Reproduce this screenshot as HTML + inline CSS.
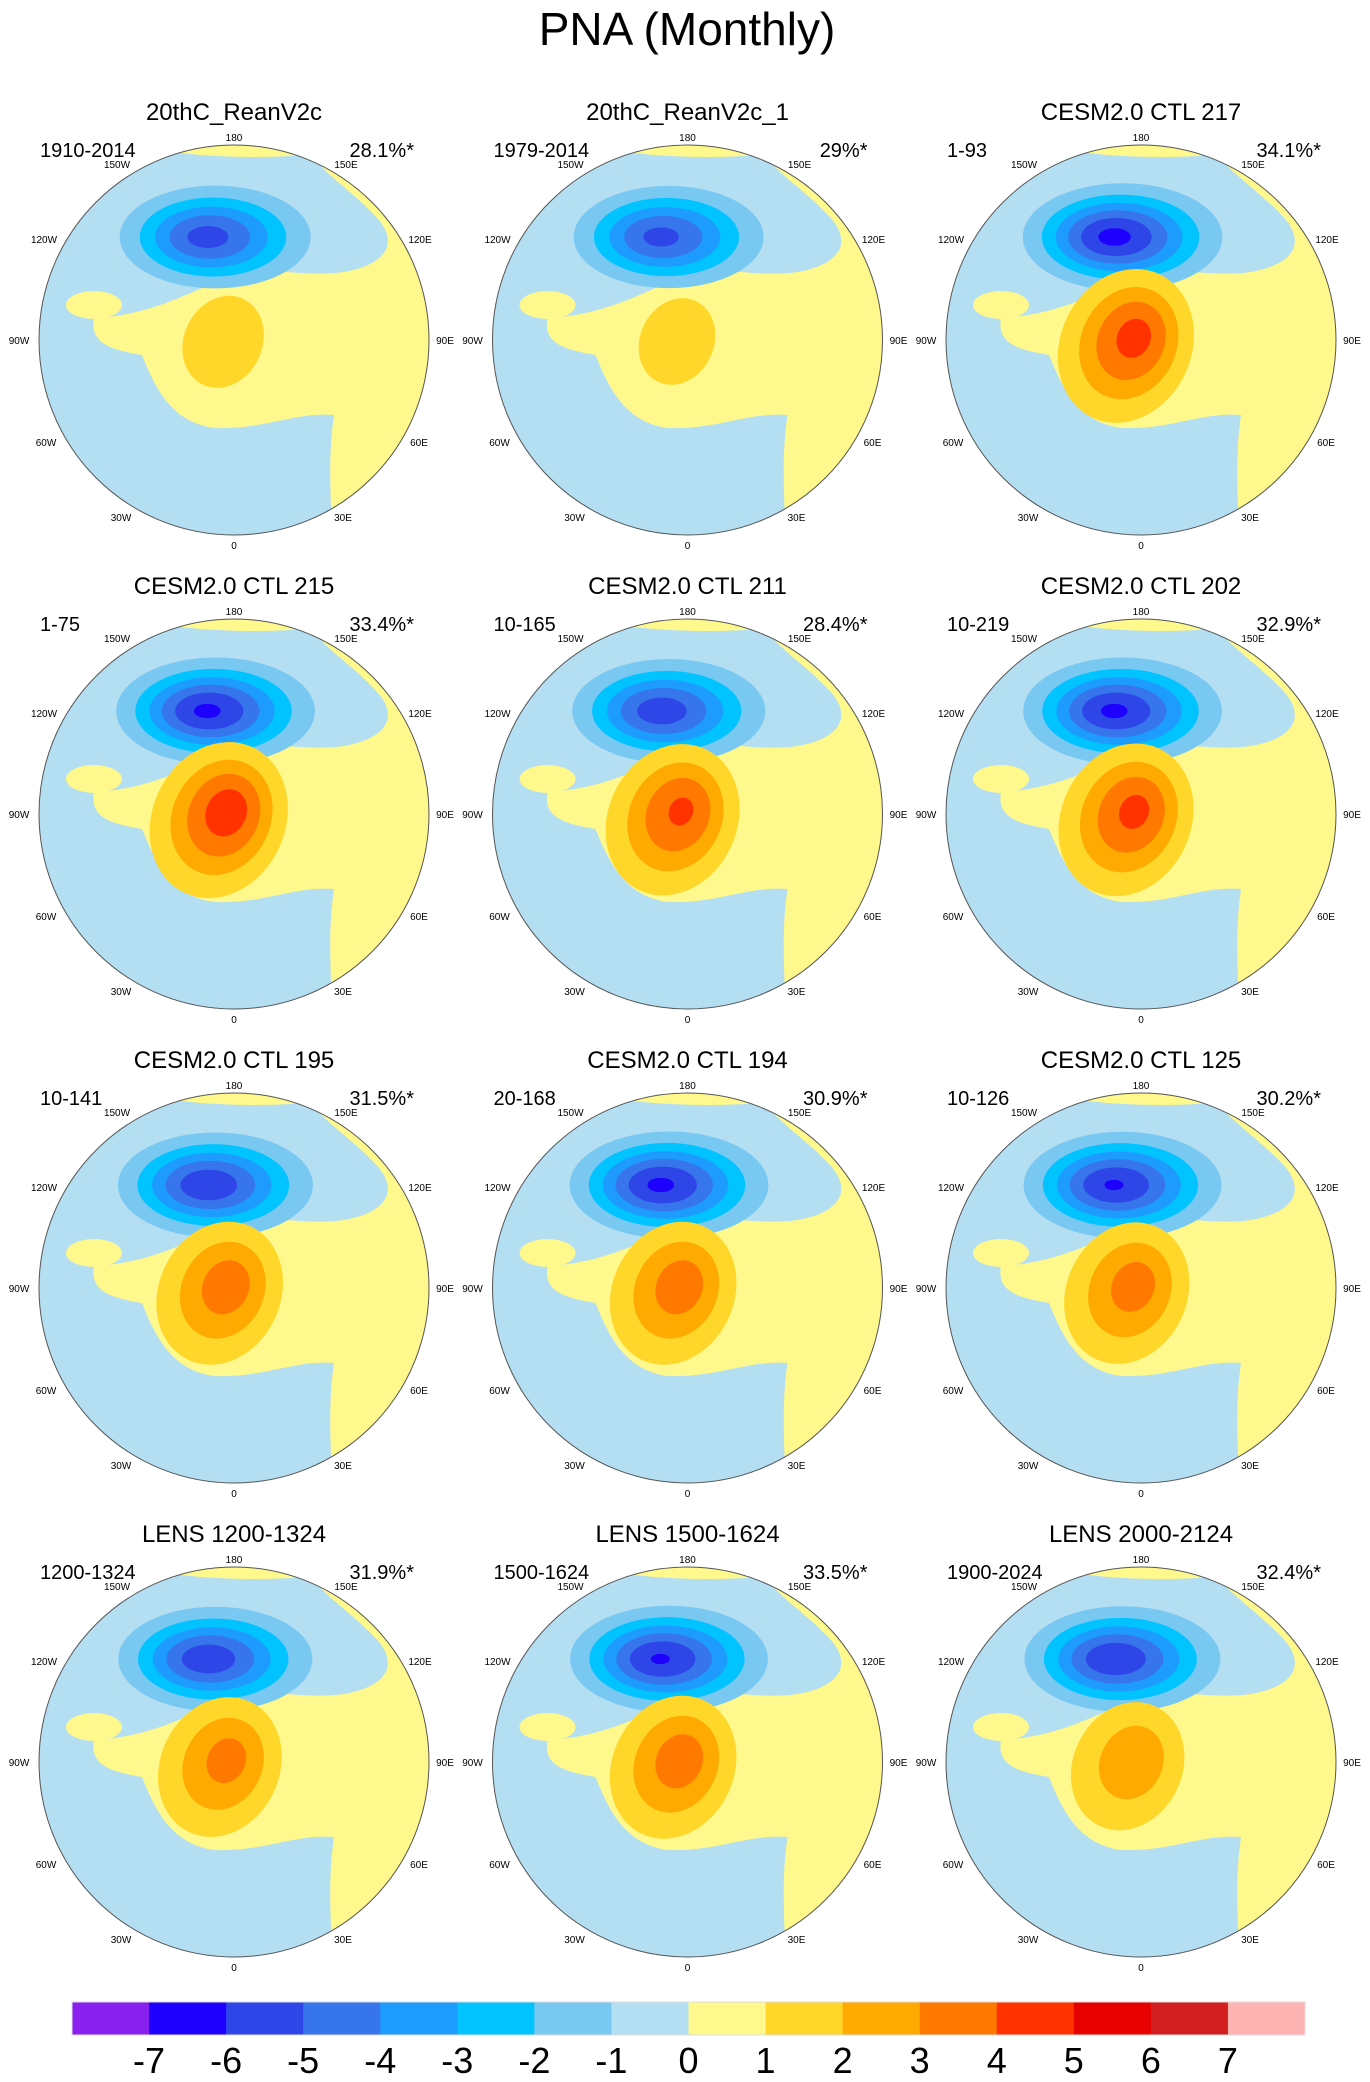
<!DOCTYPE html>
<html><head><meta charset="utf-8">
<style>
html,body{margin:0;padding:0;background:#fff;}
svg{display:block;font-family:"Liberation Sans",sans-serif;}
</style></head>
<body>
<svg id="fig" width="1370" height="2082" viewBox="0 0 1370 2082" xmlns="http://www.w3.org/2000/svg">
<text x="687" y="45" font-size="46" text-anchor="middle">PNA (Monthly)</text>
<g id="panels"></g>
<g id="cbar"></g>
</svg>
<script>
// ---- data ----
const panelTitles = ["20thC_ReanV2c","20thC_ReanV2c_1","CESM2.0 CTL 217","CESM2.0 CTL 215","CESM2.0 CTL 211","CESM2.0 CTL 202","CESM2.0 CTL 195","CESM2.0 CTL 194","CESM2.0 CTL 125","LENS 1200-1324","LENS 1500-1624","LENS 2000-2124"];
const panelPeriods = ["1910-2014","1979-2014","1-93","1-75","10-165","10-219","10-141","20-168","10-126","1200-1324","1500-1624","1900-2024"];
const panelPercents = ["28.1%*","29%*","34.1%*","33.4%*","28.4%*","32.9%*","31.5%*","30.9%*","30.2%*","31.9%*","33.5%*","32.4%*"];
const lowAmps = [5.4,5.3,6.3,6.2,5.6,6.2,5.8,6.2,6.1,5.7,6.1,5.9];
const highAmps = [1.7,1.6,4.4,4.6,4.2,4.3,3.6,3.6,3.5,3.4,3.6,2.8];
const levelColors = ["#8A20F0","#1E00FF","#2E46E8","#3675EB","#1E9BFF","#00C3FF","#78C8F2","#B4DEF2","#FFF88C","#FFD72A","#FFAA00","#FF7800","#FF3200","#E60000","#D21E1E","#FFB4B4"];
const levelLabels = ["-7","-6","-5","-4","-3","-2","-1","0","1","2","3","4","5","6","7"];

const NS="http://www.w3.org/2000/svg";
function mk(tag,attrs,parent){const e=document.createElementNS(NS,tag);for(const k in attrs)e.setAttribute(k,attrs[k]);if(parent)parent.appendChild(e);return e;}
const colX=[234,687.5,1141], rowY0=340, rowStep=474, R=195;
const panelsG=document.getElementById('panels');
const defs=mk('defs',{},document.getElementById('fig'));
const degLabels=[["180",0,-203],["150W",-117,-176],["150E",112,-176],["120W",-190,-101],["120E",186,-101],["90W",-215,0],["90E",211,0],["60W",-188,102],["60E",185,102],["30W",-113,177],["30E",109,177],["0",0,205]];

for(let i=0;i<panelTitles.length;i++){
  const cx=colX[i%3], cy=rowY0+Math.floor(i/3)*rowStep;
  const g=mk('g',{transform:`translate(${cx},${cy})`},panelsG);
  
  
  const cp=mk('clipPath',{id:'c'+i},defs);
  mk('circle',{cx:0,cy:0,r:R},cp);
  const m=mk('g',{'clip-path':`url(#c${i})`},g);
  mk('rect',{x:-R,y:-R,width:2*R,height:2*R,fill:levelColors[8]},m);
  const blue=mk('path',{fill:levelColors[7],d:"M -230,-230 L 60,-230 C 60,-180 110,-160 145,-120 C 165,-95 150,-75 110,-68 C 70,-62 30,-75 0,-66 C -40,-50 -80,-25 -140,-22 C -145,5 -120,10 -92,15 C -78,50 -62,82 -20,88 C 30,90 60,72 100,75 C 95,110 95,140 100,230 L -230,230 Z"},m);
  
  
  mk('ellipse',{cx:-140,cy:-35,rx:28,ry:14,fill:levelColors[8]},m);
  mk('ellipse',{cx:20,cy:-215,rx:150,ry:32,fill:levelColors[8]},m);
  // low (Gaussian contours)
  const A=lowAmps[i];
  for(let L=1;L<A;L++){
    const f=Math.sqrt(2*Math.log(A/L));
    const e=mk('ellipse',{cx:-28+5*f,cy:-103,rx:52*f,ry:28*f,fill:levelColors[7-L]},m);
    
    
  }
  const H=highAmps[i];
  for(let L=1;L<H;L++){
    const f=Math.sqrt(2*Math.log(H/L));
    const e=mk('ellipse',{cx:-6-3*f,cy:-2+8*f,rx:38*f,ry:46*f,fill:levelColors[8+L],transform:'rotate(25)'},m);
    
    
  }
  mk('circle',{cx:0,cy:0,r:R,fill:'none',stroke:'#555','stroke-width':1},g);
  const t=mk('text',{x:0,y:-220,'font-size':24,'text-anchor':'middle'},g);t.textContent=panelTitles[i];
  
  
  const p=mk('text',{x:-194,y:-183,'font-size':20},g);p.textContent=panelPeriods[i];
  
  
  const q=mk('text',{x:180,y:-183,'font-size':20,'text-anchor':'end'},g);q.textContent=panelPercents[i];
  
  
  for(const d of degLabels){
    const s=mk('text',{x:d[1],y:d[2]+4,'font-size':10,'text-anchor':'middle'},g);s.textContent=d[0];
    
    
  }
}
// colorbar
const cb=document.getElementById('cbar');
const bx0=72,bx1=1305,by=2002,bh=33,bw=(bx1-bx0)/levelColors.length;
levelColors.forEach((c,k)=>{
  const r=mk('rect',{x:bx0+k*bw,y:by,width:bw+0.5,height:bh,fill:c},cb);
  
  
});
mk('rect',{x:bx0,y:by,width:bx1-bx0,height:bh,fill:'none',stroke:'#ddd','stroke-width':1},cb);
levelLabels.forEach((l,k)=>{
  const t=mk('text',{x:bx0+(k+1)*bw,y:2073,'font-size':36,'text-anchor':'middle'},cb);t.textContent=l;
  
  
});
</script>
</body></html>
